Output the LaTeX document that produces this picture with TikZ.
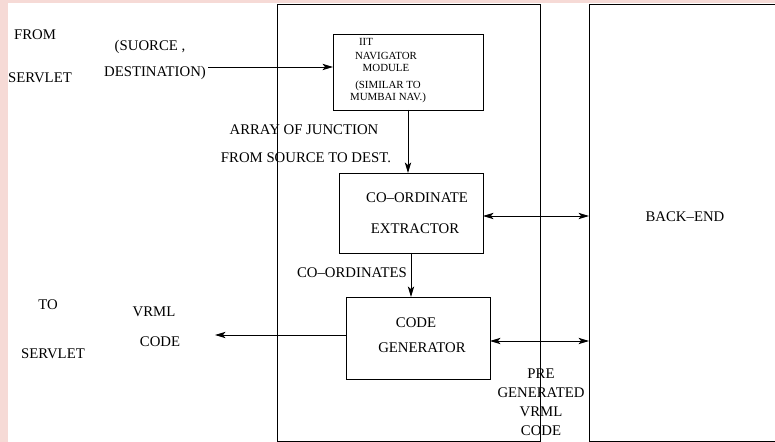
\documentclass[tikz,border=0pt]{standalone}
\usepackage{fontspec}
\setmainfont{Liberation Serif}
\usetikzlibrary{arrows.meta}
\definecolor{pinkbg}{RGB}{246,218,214}

\begin{document}
\begin{tikzpicture}[x=0.02cm, y=-0.02cm,
        box/.style={draw, line width=0.5pt, inner sep=0pt, outer sep=0pt},
        lbl/.style={inner sep=0pt, font=\fontsize{8.4}{10.8}\selectfont, align=center},
        tiny/.style={inner sep=0pt, font=\fontsize{6.2}{6.9}\selectfont, align=center},
        arr/.style={line width=0.5pt, -{Stealth[length=6pt, width=3.6pt, inset=1.5pt]}},
        biarr/.style={line width=0.5pt, {Stealth[length=6pt, width=3.6pt, inset=1.5pt]}-{Stealth[length=6pt, width=3.6pt, inset=1.5pt]}}]
    \useasboundingbox (0,0) rectangle (775,442);
    \clip (0,0) rectangle (775,442);
    \fill[pinkbg] (0,0) rectangle (775,442);
    \fill[white] (8,3) rectangle (775,442);
    % big boxes
    \node[box, minimum width=5.26cm, minimum height=8.74cm] (mid) at (408.5,222.5) {};
    \node[box, minimum width=4.02cm, minimum height=8.74cm] (back) at (689.5,222.5) {};
    \node[lbl] (backtxt) at (685,217) {BACK--END};
    % inner boxes
    \node[box, minimum width=3cm, minimum height=1.52cm] (nav) at (408,72) {};
    \node[tiny] (navA) at (366,42) {IIT};
    \node[tiny] (navB) at (386,62) {NAVIGATOR\\MODULE};
    \node[tiny] (navC) at (388,92) {(SIMILAR TO\\MUMBAI NAV.)};
    \node[box, minimum width=2.88cm, minimum height=1.6cm] (ext) at (411,213) {};
    \node[lbl] (extA) at (417,198) {CO--ORDINATE};
    \node[lbl] (extB) at (415,229) {EXTRACTOR};
    \node[box, minimum width=2.88cm, minimum height=1.64cm] (gen) at (418,338) {};
    \node[lbl] (genA) at (416,323) {CODE};
    \node[lbl] (genB) at (422,348) {GENERATOR};
    % labels
    \node[lbl] (from) at (35,35) {FROM};
    \node[lbl] (servin) at (40,78) {SERVLET};
    \node[lbl] (src) at (150,47) {(SUORCE ,};
    \node[lbl] (dest) at (155,73) {DESTINATION)};
    \node[lbl] (arrA) at (304,130) {ARRAY OF JUNCTION};
    \node[lbl] (arrB) at (306,158) {FROM SOURCE TO DEST.};
    \node[lbl] (coords) at (352,273) {CO--ORDINATES};
    \node[lbl] (to) at (48,305) {TO};
    \node[lbl] (servout) at (53,354) {SERVLET};
    \node[lbl] (vrml) at (154,312) {VRML};
    \node[lbl] (code) at (160,342) {CODE};
    \node[lbl] (pre) at (541,402) {PRE\\GENERATED\\VRML\\CODE};
    % connectors
    \coordinate (inpt) at (208,67);
    \coordinate (outpt) at (215,335);
    \draw[arr] (inpt) -- (inpt -| nav.west);
    \draw[arr] (nav.south) -- (nav.south |- ext.north);
    \draw[arr] (ext.south) -- (ext.south |- gen.north);
    \draw[biarr] ([yshift=-0.06cm]ext.east) -- ([yshift=-0.06cm]ext.east -| back.west);
    \draw[biarr] ([yshift=-0.06cm]gen.east) -- ([yshift=-0.06cm]gen.east -| back.west);
    \draw[arr] ([yshift=0.06cm]gen.west) -- ([yshift=0.06cm]gen.west -| outpt);
\end{tikzpicture}
\end{document}
